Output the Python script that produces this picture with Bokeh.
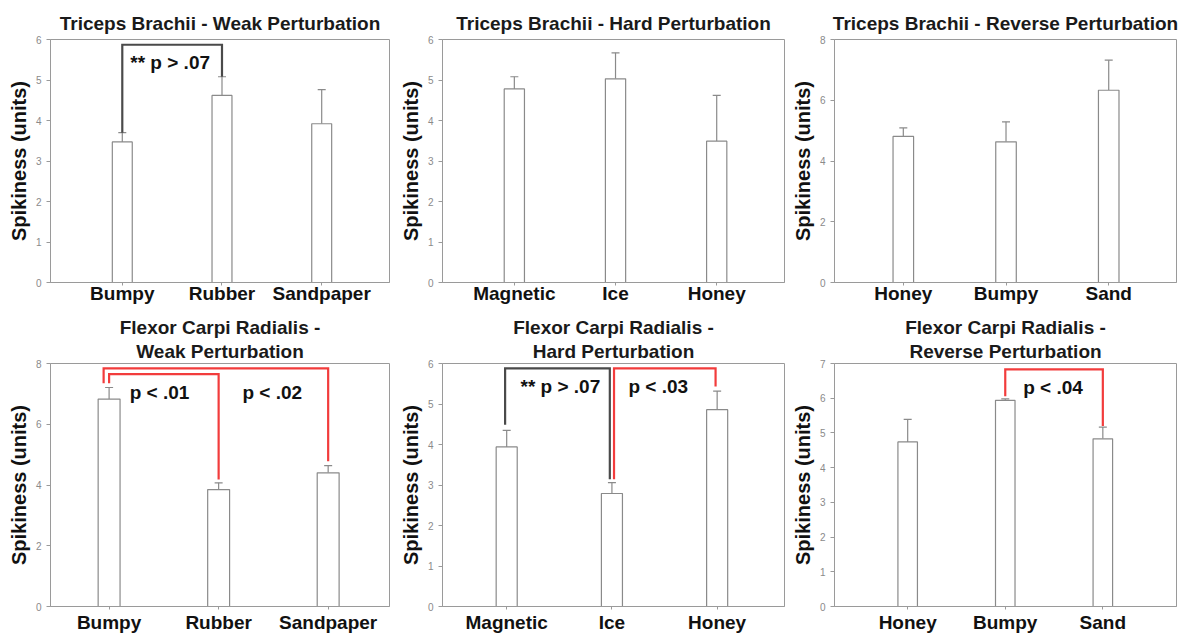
from bokeh.plotting import figure
from bokeh.layouts import gridplot
from bokeh.models import Range1d, FixedTicker, Whisker, ColumnDataSource, Title, TeeHead
from bokeh.embed import file_html
from bokeh.resources import INLINE
from bokeh.core.properties import value

FONT = "Liberation Sans"

# ---------------- data ----------------
tw_title = ["Triceps Brachii - Weak Perturbation"]
tw_cats = ["Bumpy", "Rubber", "Sandpaper"]
tw_mean = [3.47, 4.62, 3.92]
tw_sem = [0.23, 0.46, 0.84]
tw_ymax, tw_ystep = 6, 1

th_title = ["Triceps Brachii - Hard Perturbation"]
th_cats = ["Magnetic", "Ice", "Honey"]
th_mean = [4.78, 5.03, 3.49]
th_sem = [0.30, 0.64, 1.13]
th_ymax, th_ystep = 6, 1

tr_title = ["Triceps Brachii - Reverse Perturbation"]
tr_cats = ["Honey", "Bumpy", "Sand"]
tr_mean = [4.81, 4.63, 6.33]
tr_sem = [0.28, 0.66, 0.99]
tr_ymax, tr_ystep = 8, 2

fw_title = ["Flexor Carpi Radialis -", "Weak Perturbation"]
fw_cats = ["Bumpy", "Rubber", "Sandpaper"]
fw_mean = [6.83, 3.85, 4.40]
fw_sem = [0.38, 0.22, 0.24]
fw_ymax, fw_ystep = 8, 2

fh_title = ["Flexor Carpi Radialis -", "Hard Perturbation"]
fh_cats = ["Magnetic", "Ice", "Honey"]
fh_mean = [3.94, 2.79, 4.86]
fh_sem = [0.41, 0.27, 0.46]
fh_ymax, fh_ystep = 6, 1

fr_title = ["Flexor Carpi Radialis -", "Reverse Perturbation"]
fr_cats = ["Honey", "Bumpy", "Sand"]
fr_mean = [4.74, 5.94, 4.83]
fr_sem = [0.65, 0.04, 0.34]
fr_ymax, fr_ystep = 7, 1

# significance brackets: (bar a, bar b, level, label, label position)
tw_sig = [(0, 1, 5.87, "** p > .07", 0.48)]
th_sig = []
tr_sig = []
fw_sig = [(0, 2, 7.84, "", 0.0), (0, 1, 7.65, "p < .01", 0.46), (None, None, 7.65, "p < .02", 1.49)]
fh_sig = [(0, 1, 5.88, "** p > .07", 0.51), (1, 2, 5.88, "p < .03", 1.44)]
fr_sig = [(1, 2, 6.83, "p < .04", 1.49)]

GRAY_BR = "#4a4a4a"
RED_BR = "#f23c3c"
tw_col = [GRAY_BR]
fw_col = [RED_BR, RED_BR, RED_BR]
fh_col = [GRAY_BR, RED_BR]
fr_col = [RED_BR]
# leg gaps and x nudges (style)
tw_gap = [(0.0, 0.0, 0.0, 0.0)]
fw_gap = [(0.14, 0.14, -0.05, 0.0), (0.14, 0.11, 0.0, 0.0), (0, 0, 0, 0)]
fh_gap = [(0.14, 0.08, -0.015, -0.02), (0.08, 0.11, 0.02, -0.015)]
fr_gap = [(0.08, 0.03, 0.0, 0.0)]


def panel(titles, cats, mean, sem, ymax, ystep, sig, cols, gaps, w, h, bl, br, bt, bb, xs, xe,
          title_standoffs, xstandoff, valign="bottom", lh=1.0):
    p = figure(width=w, height=h, title=None, output_backend="svg", toolbar_location=None,
               x_range=Range1d(xs, xe), y_range=Range1d(0, ymax),
               min_border_left=bl, min_border_right=br, min_border_top=bt, min_border_bottom=bb)
    p.background_fill_color = "white"
    p.border_fill_color = "white"
    p.outline_line_color = "#9a9a9a"
    p.outline_line_width = 1
    p.xgrid.visible = False
    p.ygrid.visible = False

    # titles: first added is nearest the frame
    for t, so in zip(reversed(titles), title_standoffs):
        p.add_layout(Title(text=t, align="center", text_font=FONT, text_font_style="bold",
                           text_font_size="19px", text_color="#1a1a1a", standoff=so,
                           vertical_align=valign, text_line_height=lh), "above")

    idx = list(range(len(cats)))
    src = ColumnDataSource(dict(x=idx, top=mean, up=[m + s for m, s in zip(mean, sem)]))
    wh = Whisker(source=src, base="x", lower="top", upper="up", line_color="#8a8a8a", line_width=1.2,
                 upper_head=TeeHead(size=8, line_color="#8a8a8a", line_width=1.2), lower_head=None)
    p.add_layout(wh)
    p.vbar(x="x", top="top", bottom=0, width=0.2, source=src, fill_color="white",
           line_color="#8a8a8a", line_width=1.2)

    bxs, bys, bc = [], [], []
    tx, ty, tt = [], [], []
    for (a, b, lev, lab, lx), c, (ga, gb, da, db) in zip(sig, cols, gaps):
        if a is not None:
            ya = mean[a] + sem[a] + ga
            yb = mean[b] + sem[b] + gb
            bxs.append([a + da, a + da, b + db, b + db])
            bys.append([ya, lev, lev, yb])
            bc.append(c)
        if lab:
            tx.append(lx)
            ty.append(lev)
            tt.append(lab)
    if bxs:
        p.multi_line(xs=bxs, ys=bys, line_color=bc, line_width=2.2, line_join="miter")
    if tt:
        p.text(x=tx, y=ty, text=tt, text_font=value(FONT), text_font_style="bold",
               text_font_size="19px", text_align="center", text_baseline="middle",
               y_offset=18, text_color="#111111")

    xa = p.xaxis[0]
    xa.ticker = FixedTicker(ticks=idx)
    xa.major_label_overrides = {i: c for i, c in enumerate(cats)}
    xa.major_label_text_font = FONT
    xa.major_label_text_font_style = "bold"
    xa.major_label_text_font_size = "19px"
    xa.major_label_text_color = "#111111"
    xa.major_label_standoff = xstandoff
    xa.minor_tick_line_color = None
    xa.major_tick_out = 3
    xa.major_tick_in = 0

    ya_ = p.yaxis[0]
    ya_.ticker = FixedTicker(ticks=list(range(0, ymax + 1, ystep)))
    ya_.axis_label = "Spikiness (units)"
    ya_.axis_label_text_font = FONT
    ya_.axis_label_text_font_style = "bold"
    ya_.axis_label_text_font_size = "20px"
    ya_.axis_label_text_color = "#111111"
    ya_.axis_label_standoff = 3
    ya_.major_label_text_font = FONT
    ya_.major_label_text_font_size = "10px"
    ya_.major_label_text_color = "#8a8a8a"
    ya_.major_label_standoff = 5
    ya_.minor_tick_line_color = None
    ya_.major_tick_out = 4
    ya_.major_tick_in = 0

    for ax in (xa, ya_):
        ax.axis_line_color = "#9a9a9a"
        ax.major_tick_line_color = "#9a9a9a"
    return p


W1, W2, W3 = 396, 392, 394
H1, H2 = 310, 327

p1 = panel(tw_title, tw_cats, tw_mean, tw_sem, tw_ymax, tw_ystep, tw_sig, tw_col, tw_gap,
           W1, H1, 50, 7, 37, 28, -0.72, 2.68, [8], -3, "top", 0.6)
p2 = panel(th_title, th_cats, th_mean, th_sem, th_ymax, th_ystep, th_sig, [], [],
           W2, H1, 42, 4, 39, 26, -0.71, 2.67, [8], -3, "top", 0.6)
p3 = panel(tr_title, tr_cats, tr_mean, tr_sem, tr_ymax, tr_ystep, tr_sig, [], [],
           W3, H1, 43, 6, 38, 28, -0.67, 2.66, [8], -3, "top", 0.6)
p4 = panel(fw_title, fw_cats, fw_mean, fw_sem, fw_ymax, fw_ystep, fw_sig, fw_col, fw_gap,
           W1, H2, 50, 1, 53, 29, -0.535, 2.56, [3, 0], 2)
p5 = panel(fh_title, fh_cats, fh_mean, fh_sem, fh_ymax, fh_ystep, fh_sig, fh_col, fh_gap,
           W2, H2, 45, 2, 53, 29, -0.61, 2.64, [3, 0], 2)
p6 = panel(fr_title, fr_cats, fr_mean, fr_sem, fr_ymax, fr_ystep, fr_sig, fr_col, fr_gap,
           W3, H2, 43, 6, 52, 31, -0.75, 2.755, [3, 0], 2)

grid = gridplot([[p1, p2, p3], [p4, p5, p6]], toolbar_location=None)

open("out.html", "w").write(file_html(grid, INLINE))
